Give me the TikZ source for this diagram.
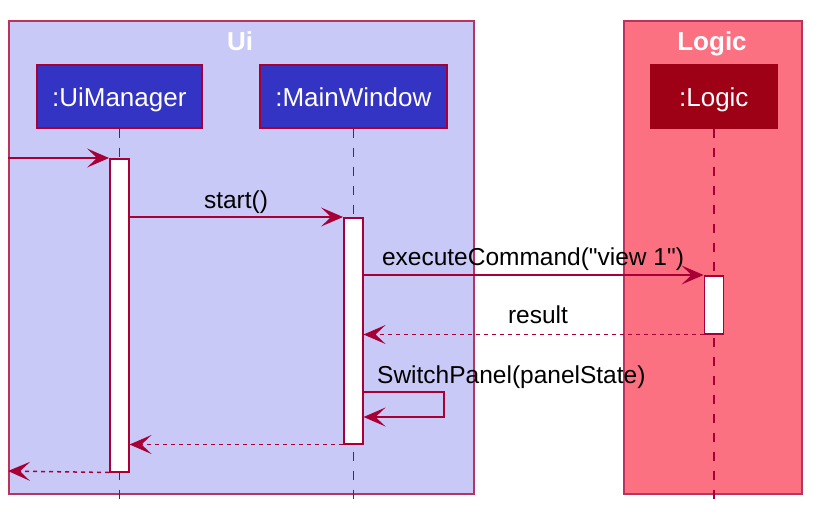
\documentclass[tikz,border=0pt]{standalone}
\usepackage{fontspec}
\setmainfont{Liberation Sans}[Ligatures=TeXOff]
\usetikzlibrary{arrows.meta}
\definecolor{bord}{RGB}{168,0,54}
\definecolor{uifill}{RGB}{201,201,248}
\definecolor{logicfill}{RGB}{252,113,130}
\definecolor{partblue}{RGB}{52,52,196}
\definecolor{partred}{RGB}{158,0,22}
\tikzset{
  grp/.style={draw=bord!80, line width=1.3pt},
  part/.style={draw=bord, line width=1.6pt, text=white, inner sep=0pt, anchor=north west,
    text height=23pt, text depth=2pt, font=\fontsize{26}{30}\selectfont},
  lifeline/.style={draw=bord, line width=1.6pt, dash pattern=on 9pt off 10pt},
  act/.style={draw=bord, fill=white, line width=1.5pt, minimum width=19pt, inner sep=0pt, anchor=north},
  msg/.style={draw=bord, line width=1.5pt, -{Stealth[length=22pt,width=19pt,inset=10pt]}},
  ret/.style={msg, dash pattern=on 4pt off 4pt},
  lbl/.style={font=\fontsize{24.5}{28}\selectfont, anchor=base, inner sep=0pt},
  ttl/.style={font=\bfseries\fontsize{26}{30}\selectfont, text=white, anchor=base, inner sep=0pt}
}
\begin{document}
\begin{tikzpicture}[x=1pt,y=-1pt]
\useasboundingbox[fill=white] (0,0) rectangle (817,517);
% groups
\draw[grp, fill=uifill] (9,21) rectangle (474,494);
\draw[grp, fill=logicfill] (624,21) rectangle (802,494);
\node[ttl] (tui) at (240,50) {Ui};
\node[ttl] (tlg) at (712,50) {Logic};
% participants
\node[part, fill=partblue, minimum width=165pt, minimum height=63pt] (um) at (36,64) {:UiManager};
\node[part, fill=partblue, minimum width=187pt, minimum height=63pt] (mw) at (259,64) {:MainWindow};
\node[part, fill=partred, draw=partred, minimum width=126pt, minimum height=63pt] (lg) at (650,64) {:Logic};
% lifelines
\coordinate (umend) at (um.south |- 0,503);
\coordinate (mwend) at (mw.south |- 0,503);
\coordinate (lgend) at (lg.south |- 0,503);
\draw[lifeline] (um.south) -- (umend);
\draw[lifeline] (mw.south) -- (mwend);
\draw[lifeline] (lg.south) -- (lgend);
% activations
\node[act, minimum height=313pt] (a1) at (um.south |- 0,158) {};
\node[act, minimum height=226pt] (a2) at (mw.south |- 0,217) {};
\node[act, minimum height=58pt] (a3) at (lg.south |- 0,275) {};
% messages
\coordinate (inL) at (8,158);
\coordinate (outL) at (8,471);
\draw[msg] (inL) -- (a1.north west);
\draw[msg] (a1.east |- a2.north) -- (a2.north west);
\node[lbl] (lstart) at (236,208) {start()};
\draw[msg] (a2.east |- a3.north) -- (a3.north west);
\node[lbl] (lexec) at (533,265) {executeCommand("view 1")};
\draw[ret] (a3.south west) -- (a2.east |- a3.south);
\node[lbl] (lres) at (538,323) {result};
\coordinate (s1) at (444,392);
\coordinate (s2) at (444,417);
\draw[msg] (a2.east |- s1) -- (s1) -- (s2) -- (a2.east |- s2);
\node[lbl, anchor=base west] (lsw) at (377,383) {SwitchPanel(panelState)};
\draw[ret] (a2.south west) -- (a1.east |- a2.south);
\draw[ret] (a1.south west) -- (outL);
\end{tikzpicture}
\end{document}
